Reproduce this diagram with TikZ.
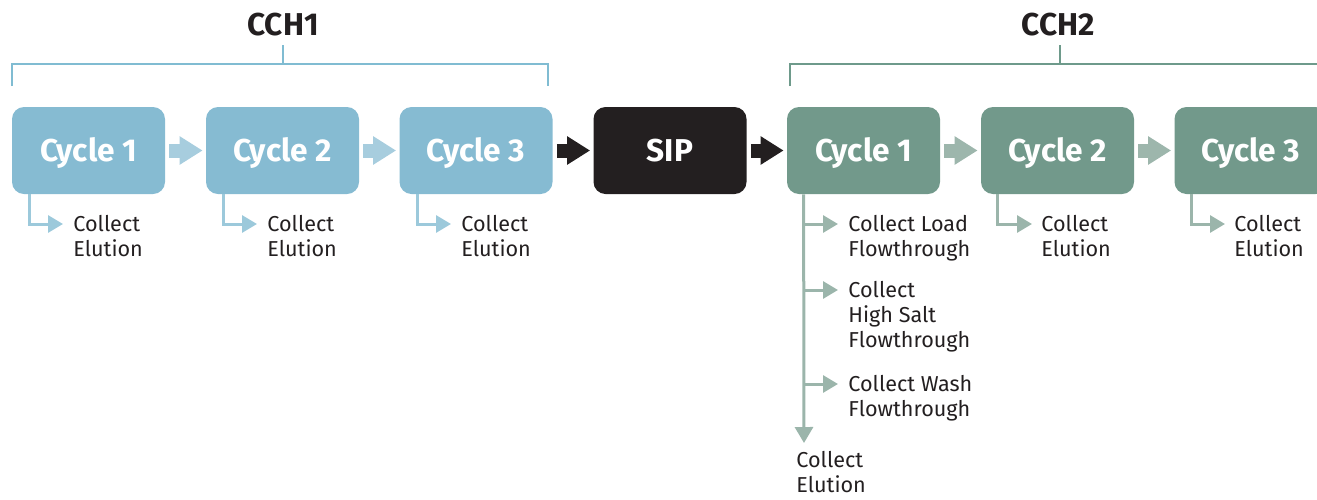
\documentclass[tikz,border=0pt]{standalone}
\usepackage{fontspec}
\setmainfont{Fira Sans}
\usetikzlibrary{arrows.meta,calc}

\definecolor{ink}{HTML}{231F20}
\definecolor{blueBox}{HTML}{86BBD2}
\definecolor{blueArrow}{HTML}{A7CDDE}
\definecolor{blueLine}{HTML}{9CC9DB}
\definecolor{blueBracket}{HTML}{80BCD2}
\definecolor{greenBox}{HTML}{72998B}
\definecolor{greenArrow}{HTML}{9DB6AC}
\definecolor{greenLine}{HTML}{9BB5AB}
\definecolor{greenBracket}{HTML}{6E9A8B}

\begin{document}
\begin{tikzpicture}[x=0.5pt,y=-0.5pt,
  stage/.style={rounded corners=6pt, minimum width=76.5pt, minimum height=43.5pt,
    inner sep=0pt, text=white, text height=11pt, text depth=0pt,
    font=\fontsize{15.8}{18}\selectfont\bfseries},
  flow/.style={line width=7pt, -{Triangle[length=11.5pt,width=13.5pt]},
    shorten <=2pt, shorten >=1.5pt},
  tap/.style={line width=1.5pt, -{Triangle[length=7.5pt,width=8.5pt]}},
  tapdown/.style={line width=1.5pt, -{Triangle[length=8pt,width=9pt]}},
  note/.style={anchor=north west, inner sep=0pt, align=left,
    font=\fontsize{10.8}{12.5}\selectfont, text=ink},
  head/.style={inner sep=0pt, text=ink, font=\fontsize{15.8}{18}\selectfont\bfseries},
  brk/.style={line width=1.3pt}
]
\useasboundingbox (0,0) rectangle (1317,499);
\clip (0,0) rectangle (1317,499);

% group headings and brackets
\node[head] (h1) at (283,25) {CCH1};
\node[head] (h2) at (1058,25) {CCH2};
\draw[brk, blueBracket] (12,86) -- (12,64) -- (548,64) -- (548,86);
\draw[brk, blueBracket] (283,64) -- (283,45);
\draw[brk, greenBracket] (790,86) -- (790,64) -- (1330,64);
\draw[brk, greenBracket] (1060,64) -- (1060,45);

% process stages
\node[stage, fill=blueBox]  (a1) at (88.5,150.5)  {Cycle 1};
\node[stage, fill=blueBox]  (a2) at (282.5,150.5) {Cycle 2};
\node[stage, fill=blueBox]  (a3) at (476,150.5)   {Cycle 3};
\node[stage, fill=ink]      (sip) at (670,150.5)  {SIP};
\node[stage, fill=greenBox] (b1) at (863.5,150.5) {Cycle 1};
\node[stage, fill=greenBox] (b2) at (1057.5,150.5){Cycle 2};
\node[stage, fill=greenBox] (b3) at (1251,150.5)  {Cycle 3};

% stage-to-stage arrows
\draw[flow, blueArrow]  (a1) -- (a2);
\draw[flow, blueArrow]  (a2) -- (a3);
\draw[flow, ink]        (a3) -- (sip);
\draw[flow, ink]        (sip) -- (b1);
\draw[flow, greenArrow] (b1) -- (b2);
\draw[flow, greenArrow] (b2) -- (b3);

% CCH1 elution outlets
\foreach \s/\x in {a1/12, a2/206, a3/400}{
  \coordinate (\s-tip) at (\x+51,224);
  \draw[tap, blueLine] ([xshift=9pt]\s.south west) |- (\s-tip);
  \node[note] (\s-note) at (\x+61,215) {Collect\\Elution};
}

% CCH2 later cycles
\foreach \s/\x in {b2/981, b3/1174}{
  \coordinate (\s-tip) at (\x+51,224);
  \draw[tap, greenLine] ([xshift=8.5pt]\s.south west) |- (\s-tip);
  \node[note] (\s-note) at (\x+60,215) {Collect\\Elution};
}

% CCH2 first cycle: flowthrough branches and elution
\coordinate (v0) at ([xshift=8.5pt]b1.south west);
\coordinate (vend) at (804,443);
\draw[tapdown, greenLine] (v0) -- (vend);
\foreach \n/\y in {1/224, 2/290, 3/384}{
  \coordinate (j\n) at (804,\y);
  \coordinate (t\n) at (838,\y);
  \draw[tap, greenLine] (j\n) -- (t\n);
}
\node[note] (f1) at (848,215) {Collect Load\\Flowthrough};
\node[note] (f2) at (848,281) {Collect\\High Salt\\Flowthrough};
\node[note] (f3) at (848,375) {Collect Wash\\Flowthrough};
\node[note] (f4) at (796,451) {Collect\\Elution};
\end{tikzpicture}
\end{document}
